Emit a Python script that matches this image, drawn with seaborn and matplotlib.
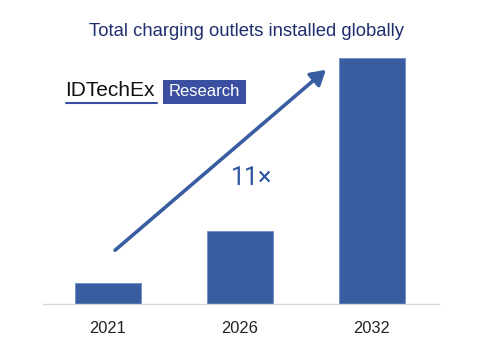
import matplotlib
matplotlib.use("Agg")
import matplotlib.pyplot as plt
import seaborn as sns
import pandas as pd

years = ["2021", "2026", "2032"]
outlets = [2.0, 7.0, 23.5]  # relative heights (no axis scale shown)

bar_color = "#385da0"
navy = "#1f2e6e"

sns.set_style("white")
plt.rcParams["font.family"] = ["Liberation Sans", "DejaVu Sans"]

df = pd.DataFrame({"year": years, "outlets": outlets})

fig = plt.figure(figsize=(4.85, 3.6), dpi=100)
ax = fig.add_axes([43 / 485, 56 / 360, 396 / 485, 246 / 360])
sns.barplot(data=df, x="year", y="outlets", color=bar_color, width=0.5,
            saturation=1, ax=ax, edgecolor="#6f8cc4", linewidth=0.6)
ax.set_xlim(-0.49, 2.51)
ax.set_ylim(0, max(outlets))
ax.set_xlabel("")
ax.set_ylabel("")
ax.set_yticks([])
ax.tick_params(axis="x", length=0, labelsize=11.8, pad=12, colors="#222222")
for s in ["top", "right", "left"]:
    ax.spines[s].set_visible(False)
ax.spines["bottom"].set_color("#d9d9d9")
ax.spines["bottom"].set_linewidth(1)

# growth arrow and label
fig.patches.append(matplotlib.patches.FancyArrowPatch(
    (113 / 485, 1 - 252 / 360), (328 / 485, 1 - 68 / 360),
    transform=fig.transFigure, arrowstyle="-|>,head_length=4,head_width=2.4",
    mutation_scale=2.2, color=bar_color, linewidth=2.6))
fig.text(252 / 485, 1 - 178 / 360, "11×", ha="center", va="center",
         fontsize=18, color="#2e55a0", family=["Roboto", "DejaVu Sans"])

# title
fig.text(247 / 485, 1 - 31 / 360, "Total charging outlets installed globally",
         ha="center", va="center", fontsize=13.3, color=navy)

# logo
fig.text(65 / 485, 1 - 91 / 360, "IDTechEx", ha="left", va="center",
         fontsize=15, color="#111111", fontweight="medium")
fig.add_artist(matplotlib.lines.Line2D([66 / 485, 157 / 485], [1 - 103 / 360, 1 - 103 / 360],
                                       color="#3b4fa0", linewidth=1.5))
fig.patches.append(matplotlib.patches.Rectangle(
    (163 / 485, 1 - 104 / 360), 83 / 485, 24 / 360,
    transform=fig.transFigure, facecolor="#3b4fa0", edgecolor="none"))
fig.text(204.5 / 485, 1 - 92 / 360, "Research", ha="center", va="center",
         fontsize=12, color="white")

fig.savefig("out.png", dpi=100)
